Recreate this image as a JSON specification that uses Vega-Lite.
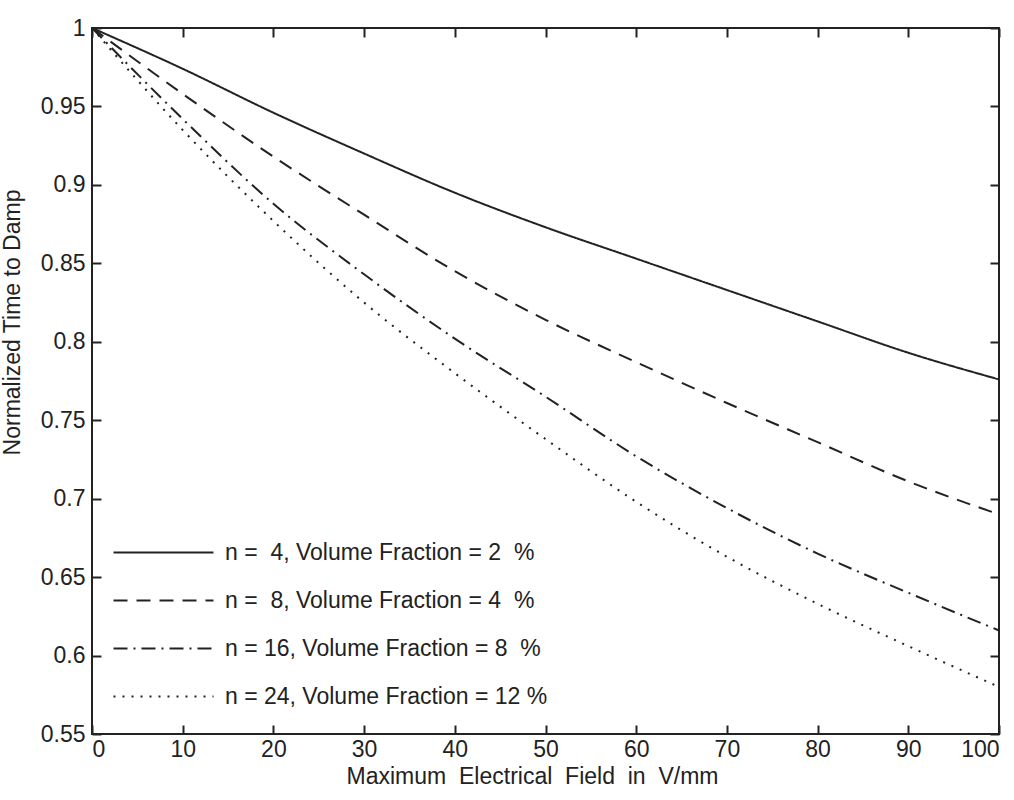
{
  "$schema": "https://vega.github.io/schema/vega-lite/v6.json",
  "autosize": {"type": "none"},
  "padding": {"left": 92, "top": 28, "right": 16, "bottom": 66},
  "width": 907,
  "height": 706,
  "background": "white",
  "config": {
    "font": "Liberation Sans",
    "view": {"stroke": "#222", "strokeWidth": 2},
    "axis": {"domain": false, "grid": false, "tickColor": "#222", "tickWidth": 2, "labelColor": "#222", "titleColor": "#222", "titleFontWeight": "normal", "labelFont": "Liberation Sans", "titleFont": "Liberation Sans"},
    "legend": {"labelFont": "Liberation Sans"}
  },
  "data": {"values": [
    {"series": "n =\u00a0 4, Volume Fraction = 2\u00a0 %", "E": 0, "t": 1.0},
    {"series": "n =\u00a0 4, Volume Fraction = 2\u00a0 %", "E": 10, "t": 0.974},
    {"series": "n =\u00a0 4, Volume Fraction = 2\u00a0 %", "E": 20, "t": 0.946},
    {"series": "n =\u00a0 4, Volume Fraction = 2\u00a0 %", "E": 30, "t": 0.92},
    {"series": "n =\u00a0 4, Volume Fraction = 2\u00a0 %", "E": 40, "t": 0.895},
    {"series": "n =\u00a0 4, Volume Fraction = 2\u00a0 %", "E": 50, "t": 0.873},
    {"series": "n =\u00a0 4, Volume Fraction = 2\u00a0 %", "E": 60, "t": 0.853},
    {"series": "n =\u00a0 4, Volume Fraction = 2\u00a0 %", "E": 70, "t": 0.833},
    {"series": "n =\u00a0 4, Volume Fraction = 2\u00a0 %", "E": 80, "t": 0.813},
    {"series": "n =\u00a0 4, Volume Fraction = 2\u00a0 %", "E": 90, "t": 0.793},
    {"series": "n =\u00a0 4, Volume Fraction = 2\u00a0 %", "E": 100, "t": 0.776},
    {"series": "n =\u00a0 8, Volume Fraction = 4\u00a0 %", "E": 0, "t": 1.0},
    {"series": "n =\u00a0 8, Volume Fraction = 4\u00a0 %", "E": 10, "t": 0.958},
    {"series": "n =\u00a0 8, Volume Fraction = 4\u00a0 %", "E": 20, "t": 0.918},
    {"series": "n =\u00a0 8, Volume Fraction = 4\u00a0 %", "E": 30, "t": 0.881},
    {"series": "n =\u00a0 8, Volume Fraction = 4\u00a0 %", "E": 40, "t": 0.845},
    {"series": "n =\u00a0 8, Volume Fraction = 4\u00a0 %", "E": 50, "t": 0.814},
    {"series": "n =\u00a0 8, Volume Fraction = 4\u00a0 %", "E": 60, "t": 0.787},
    {"series": "n =\u00a0 8, Volume Fraction = 4\u00a0 %", "E": 70, "t": 0.761},
    {"series": "n =\u00a0 8, Volume Fraction = 4\u00a0 %", "E": 80, "t": 0.736},
    {"series": "n =\u00a0 8, Volume Fraction = 4\u00a0 %", "E": 90, "t": 0.711},
    {"series": "n =\u00a0 8, Volume Fraction = 4\u00a0 %", "E": 100, "t": 0.69},
    {"series": "n = 16, Volume Fraction = 8\u00a0 %", "E": 0, "t": 1.0},
    {"series": "n = 16, Volume Fraction = 8\u00a0 %", "E": 10, "t": 0.942},
    {"series": "n = 16, Volume Fraction = 8\u00a0 %", "E": 20, "t": 0.888},
    {"series": "n = 16, Volume Fraction = 8\u00a0 %", "E": 30, "t": 0.843},
    {"series": "n = 16, Volume Fraction = 8\u00a0 %", "E": 40, "t": 0.802},
    {"series": "n = 16, Volume Fraction = 8\u00a0 %", "E": 50, "t": 0.765},
    {"series": "n = 16, Volume Fraction = 8\u00a0 %", "E": 60, "t": 0.727},
    {"series": "n = 16, Volume Fraction = 8\u00a0 %", "E": 70, "t": 0.694},
    {"series": "n = 16, Volume Fraction = 8\u00a0 %", "E": 80, "t": 0.665},
    {"series": "n = 16, Volume Fraction = 8\u00a0 %", "E": 90, "t": 0.64},
    {"series": "n = 16, Volume Fraction = 8\u00a0 %", "E": 100, "t": 0.616},
    {"series": "n = 24, Volume Fraction = 12 %", "E": 0, "t": 1.0},
    {"series": "n = 24, Volume Fraction = 12 %", "E": 10, "t": 0.935},
    {"series": "n = 24, Volume Fraction = 12 %", "E": 20, "t": 0.877},
    {"series": "n = 24, Volume Fraction = 12 %", "E": 30, "t": 0.825},
    {"series": "n = 24, Volume Fraction = 12 %", "E": 40, "t": 0.78},
    {"series": "n = 24, Volume Fraction = 12 %", "E": 50, "t": 0.738},
    {"series": "n = 24, Volume Fraction = 12 %", "E": 60, "t": 0.698},
    {"series": "n = 24, Volume Fraction = 12 %", "E": 70, "t": 0.663},
    {"series": "n = 24, Volume Fraction = 12 %", "E": 80, "t": 0.633},
    {"series": "n = 24, Volume Fraction = 12 %", "E": 90, "t": 0.606},
    {"series": "n = 24, Volume Fraction = 12 %", "E": 100, "t": 0.58}
  ]},
  "resolve": {"axis": {"x": "independent", "y": "independent"}},
  "layer": [
    {
      "mark": {"type": "line", "interpolate": "monotone", "color": "#222", "strokeWidth": 2},
      "encoding": {
        "x": {"field": "E", "type": "quantitative", "scale": {"domain": [0, 100], "nice": false},
              "axis": {"orient": "bottom", "values": [0,10,20,30,40,50,60,70,80,90,100], "tickSize": -9, "labelPadding": 13, "labelFontSize": 23, "titleFontSize": 23, "title": "Maximum\u00a0 Electrical\u00a0 Field\u00a0 in\u00a0 V/mm", "titlePadding": 4, "titleX": 440}},
        "y": {"field": "t", "type": "quantitative", "scale": {"domain": [0.55, 1], "nice": false, "zero": false},
              "axis": {"orient": "left", "values": [0.55,0.6,0.65,0.7,0.75,0.8,0.85,0.9,0.95,1], "format": "~g", "tickSize": -9, "labelPadding": 16, "labelFontSize": 23, "titleFontSize": 23, "title": "Normalized Time to Damp", "titleX": -68, "titleY": 294}},
        "strokeDash": {"field": "series", "type": "nominal",
          "scale": {"domain": ["n =\u00a0 4, Volume Fraction = 2\u00a0 %", "n =\u00a0 8, Volume Fraction = 4\u00a0 %", "n = 16, Volume Fraction = 8\u00a0 %", "n = 24, Volume Fraction = 12 %"],
                    "range": [[1,0],[14,9],[14,6,2,6],[2,7]]},
          "legend": {"orient": "none", "legendX": 60, "legendY": 513, "padding": 0, "title": null, "symbolType": "M-5,0H5", "symbolSize": 400, "symbolStrokeWidth": 2, "symbolStrokeColor": "#222", "symbolFillColor": "transparent", "labelFontSize": 23, "labelColor": "#222", "labelOffset": 50, "labelLimit": 700, "rowPadding": 24}}
      }
    },
    {
      "mark": {"type": "line", "opacity": 0},
      "encoding": {
        "x": {"field": "E", "type": "quantitative", "axis": {"orient": "top", "values": [0,10,20,30,40,50,60,70,80,90,100], "tickSize": -9, "labels": false, "title": null}},
        "y": {"field": "t", "type": "quantitative", "axis": {"orient": "right", "values": [0.55,0.6,0.65,0.7,0.75,0.8,0.85,0.9,0.95,1], "tickSize": -9, "labels": false, "title": null}}
      }
    }
  ]
}
